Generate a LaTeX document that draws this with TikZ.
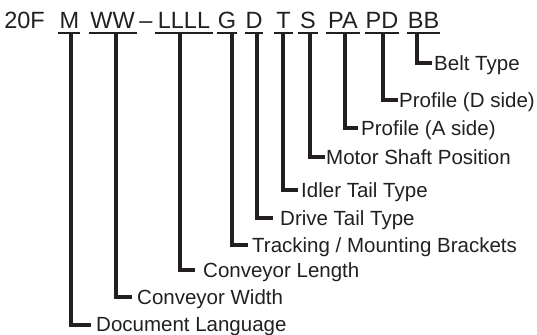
\documentclass[tikz,border=0pt]{standalone}
\usepackage{fontspec}
\setmainfont{Liberation Sans}
\usetikzlibrary{positioning}
\definecolor{ink}{HTML}{231F20}

\begin{document}
\begin{tikzpicture}[x=1bp, y=-1bp,
    code/.style={font=\fontsize{23.5bp}{28bp}\selectfont, text=ink,
    inner sep=0pt, anchor=base},
    lbl/.style={font=\fontsize{20.5bp}{25bp}\selectfont, text=ink,
    inner sep=0pt, text height=14.7bp, text depth=0pt},
    uline/.style={draw=ink, line width=2bp},
    leader/.style={draw=ink, line width=4bp}]

    \useasboundingbox (0,0) rectangle (537,334);

    % the code itself
    \node[code] (yr) at (24.5,28) {20F};
    \node[code] (lang-c) at (69.5,28) {M};
    \node[code] (wid-c) at (112.5,28) {WW};
    \node[code] (dash) at (146,28) {--};
    \node[code] (len-c) at (184,28) {LLLL};
    \node[code] (trk-c) at (227,28) {G};
    \node[code] (drv-c) at (254,28) {D};
    \node[code] (idl-c) at (283.5,28) {T};
    \node[code] (mot-c) at (308,28) {S};
    \node[code] (pa-c) at (343,28) {PA};
    \node[code] (pd-c) at (382,28) {PD};
    \node[code] (belt-c) at (423.5,28) {BB};

    % underlines
    \coordinate (lang-ul) at (58,32.5);  \coordinate (lang-ur) at (80,32.5);
    \coordinate (wid-ul) at (89,32.5);   \coordinate (wid-ur) at (137,32.5);
    \coordinate (len-ul) at (155,32.5);  \coordinate (len-ur) at (213,32.5);
    \coordinate (trk-ul) at (217,32.5);  \coordinate (trk-ur) at (237,32.5);
    \coordinate (drv-ul) at (245,32.5);  \coordinate (drv-ur) at (263,32.5);
    \coordinate (idl-ul) at (274,32.5);  \coordinate (idl-ur) at (293,32.5);
    \coordinate (mot-ul) at (298,32.5);  \coordinate (mot-ur) at (318,32.5);
    \coordinate (pa-ul) at (326,32.5);   \coordinate (pa-ur) at (360,32.5);
    \coordinate (pd-ul) at (365,32.5);   \coordinate (pd-ur) at (399,32.5);
    \coordinate (belt-ul) at (407,32.5); \coordinate (belt-ur) at (440,32.5);
    \foreach \f in {lang,wid,len,trk,drv,idl,mot,pa,pd,belt}
      \draw[uline] (\f-ul) -- (\f-ur);

    % leader tops and elbows
    \coordinate (lang-t) at (71,32.5);  \coordinate (lang-e) at (91,324.5);
    \coordinate (wid-t) at (115.5,32.5); \coordinate (wid-e) at (132,297);
    \coordinate (len-t) at (180,32.5);  \coordinate (len-e) at (195,270);
    \coordinate (trk-t) at (232,32.5);  \coordinate (trk-e) at (248,245);
    \coordinate (drv-t) at (257,32.5);  \coordinate (drv-e) at (273,218);
    \coordinate (idl-t) at (283,32.5);  \coordinate (idl-e) at (298,190);
    \coordinate (mot-t) at (310,32.5);  \coordinate (mot-e) at (325,157);
    \coordinate (pa-t) at (345,32.5);   \coordinate (pa-e) at (358,128);
    \coordinate (pd-t) at (383,32.5);   \coordinate (pd-e) at (398,100);
    \coordinate (belt-t) at (417,32.5); \coordinate (belt-e) at (432,63);

    % labels
    \node[lbl, right=5bp of lang-e] (lang) {Document Language};
    \node[lbl, right=5bp of wid-e] (wid) {Conveyor Width};
    \node[lbl, right=8bp of len-e] (len) {Conveyor Length};
    \node[lbl, right=4bp of trk-e] (trk) {Tracking / Mounting Brackets};
    \node[lbl, right=7bp of drv-e] (drv) {Drive Tail Type};
    \node[lbl, right=3bp of idl-e] (idl) {Idler Tail Type};
    \node[lbl, right=1bp of mot-e] (mot) {Motor Shaft Position};
    \node[lbl, right=3bp of pa-e] (pa) {Profile (A side)};
    \node[lbl, right=1bp of pd-e] (pd) {Profile (D side)};
    \node[lbl, right=2bp of belt-e] (belt) {Belt Type};

    \foreach \f in {lang,wid,len,trk,drv,idl,mot,pa,pd,belt}
      \draw[leader] (\f-t) |- (\f-e);

\end{tikzpicture}
\end{document}
